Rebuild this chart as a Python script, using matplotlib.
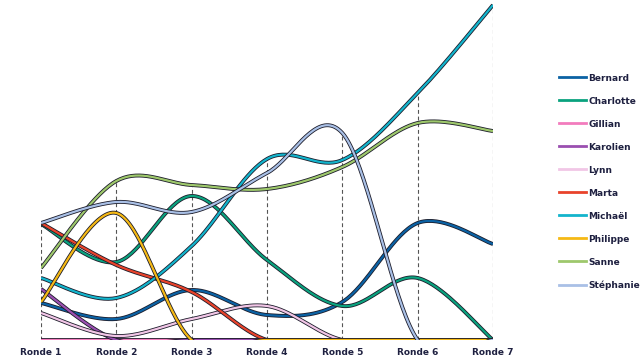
import numpy as np
import matplotlib
matplotlib.use("Agg")
import matplotlib.pyplot as plt
import matplotlib.patheffects as pe
from matplotlib.lines import Line2D

rounds = ["Ronde 1", "Ronde 2", "Ronde 3", "Ronde 4", "Ronde 5", "Ronde 6", "Ronde 7"]
names = ["Bernard", "Charlotte", "Gillian", "Karolien", "Lynn", "Marta",
         "Michaël", "Philippe", "Sanne", "Stéphanie"]

bernard   = [7.4, 4.2, 10.0, 5.0, 7.6, 23.4, 19.2]
charlotte = [23.2, 15.6, 28.8, 16.0, 6.8, 12.4, 0]
gillian   = [0, 0, 0, 0, 0, 0, 0]
karolien  = [10.2, 0, 0, 0, 0, 0, 0]
lynn      = [5.4, 0.8, 4.2, 6.8, 0, 0, 0]
marta     = [23.4, 15.0, 9.6, 0, 0, 0, 0]
michael   = [12.4, 8.4, 18.8, 36.2, 36.0, 49.4, 67.0]
philippe  = [7.6, 25.4, 0, 0, 0, 0, 0]
sanne     = [14.4, 31.8, 31.0, 30.2, 34.6, 43.4, 41.8]
stephanie = [23.4, 27.6, 25.6, 33.4, 41.4, 0, 0]

series = [bernard, charlotte, gillian, karolien, lynn, marta,
          michael, philippe, sanne, stephanie]
colors = ["#0b62a4", "#0aa27e", "#f27cbd", "#9a4fb0", "#f1c6e6", "#e8432b",
          "#13b4cc", "#f5b915", "#9ec86c", "#a9c0e6"]


def catmull(xs, ys, n=40):
    xs = np.asarray(xs, float)
    ys = np.asarray(ys, float)
    px = np.concatenate([[xs[0]], xs, [xs[-1]]])
    py = np.concatenate([[ys[0]], ys, [ys[-1]]])
    ox, oy = [], []
    for i in range(1, len(px) - 2):
        t = np.linspace(0, 1, n)
        h00 = 2 * t**3 - 3 * t**2 + 1
        h10 = t**3 - 2 * t**2 + t
        h01 = -2 * t**3 + 3 * t**2
        h11 = t**3 - t**2
        mx0 = (px[i + 1] - px[i - 1]) / 2
        mx1 = (px[i + 2] - px[i]) / 2
        my0 = (py[i + 1] - py[i - 1]) / 2
        my1 = (py[i + 2] - py[i]) / 2
        ox.append(h00 * px[i] + h10 * mx0 + h01 * px[i + 1] + h11 * mx1)
        oy.append(h00 * py[i] + h10 * my0 + h01 * py[i + 1] + h11 * my1)
    return np.concatenate(ox), np.concatenate(oy)


fig = plt.figure(figsize=(6.4, 3.6), dpi=100)
W, H = 640, 360
left, right, bottom, top = 41, 493, 340, 2
ax = fig.add_axes([left / W, 1 - bottom / H, (right - left) / W, (bottom - top) / H])
ymax = 67.0 * (bottom - top) / (bottom - 5)
ax.set_xlim(0, len(rounds) - 1)
ax.set_ylim(0, ymax)
for s in ax.spines.values():
    s.set_visible(False)
ax.set_yticks([])

x = np.arange(len(rounds))
tops = np.max(np.array(series), axis=0)
ax.vlines(x, 0, tops, colors="#555555", linestyles=(0, (3.5, 2.5)), linewidth=0.8, zorder=1)

for vals, col in zip(series, colors):
    sx, sy = catmull(x, vals)
    ax.plot(sx, sy, color=col, linewidth=1.6, zorder=2, solid_capstyle="butt",
            path_effects=[pe.Stroke(linewidth=2.8, foreground="#1c1c2a"), pe.Normal()])

ax.set_xticks(x)
ax.set_xticklabels(rounds, fontsize=6.5, fontweight="bold", color="#1e2040")
ax.tick_params(axis="x", length=0, pad=6)

handles = [Line2D([0], [0], color=c, linewidth=2) for c in colors]
fig.legend(handles, names, loc="upper left", bbox_to_anchor=(555 / W, 1 - 70 / H),
           frameon=False, prop={"size": 6.5, "weight": "bold"}, labelcolor="#1e2040",
           handlelength=3.0, handletextpad=0.3, labelspacing=1.55, borderaxespad=0)

fig.savefig("out.png", dpi=100)
